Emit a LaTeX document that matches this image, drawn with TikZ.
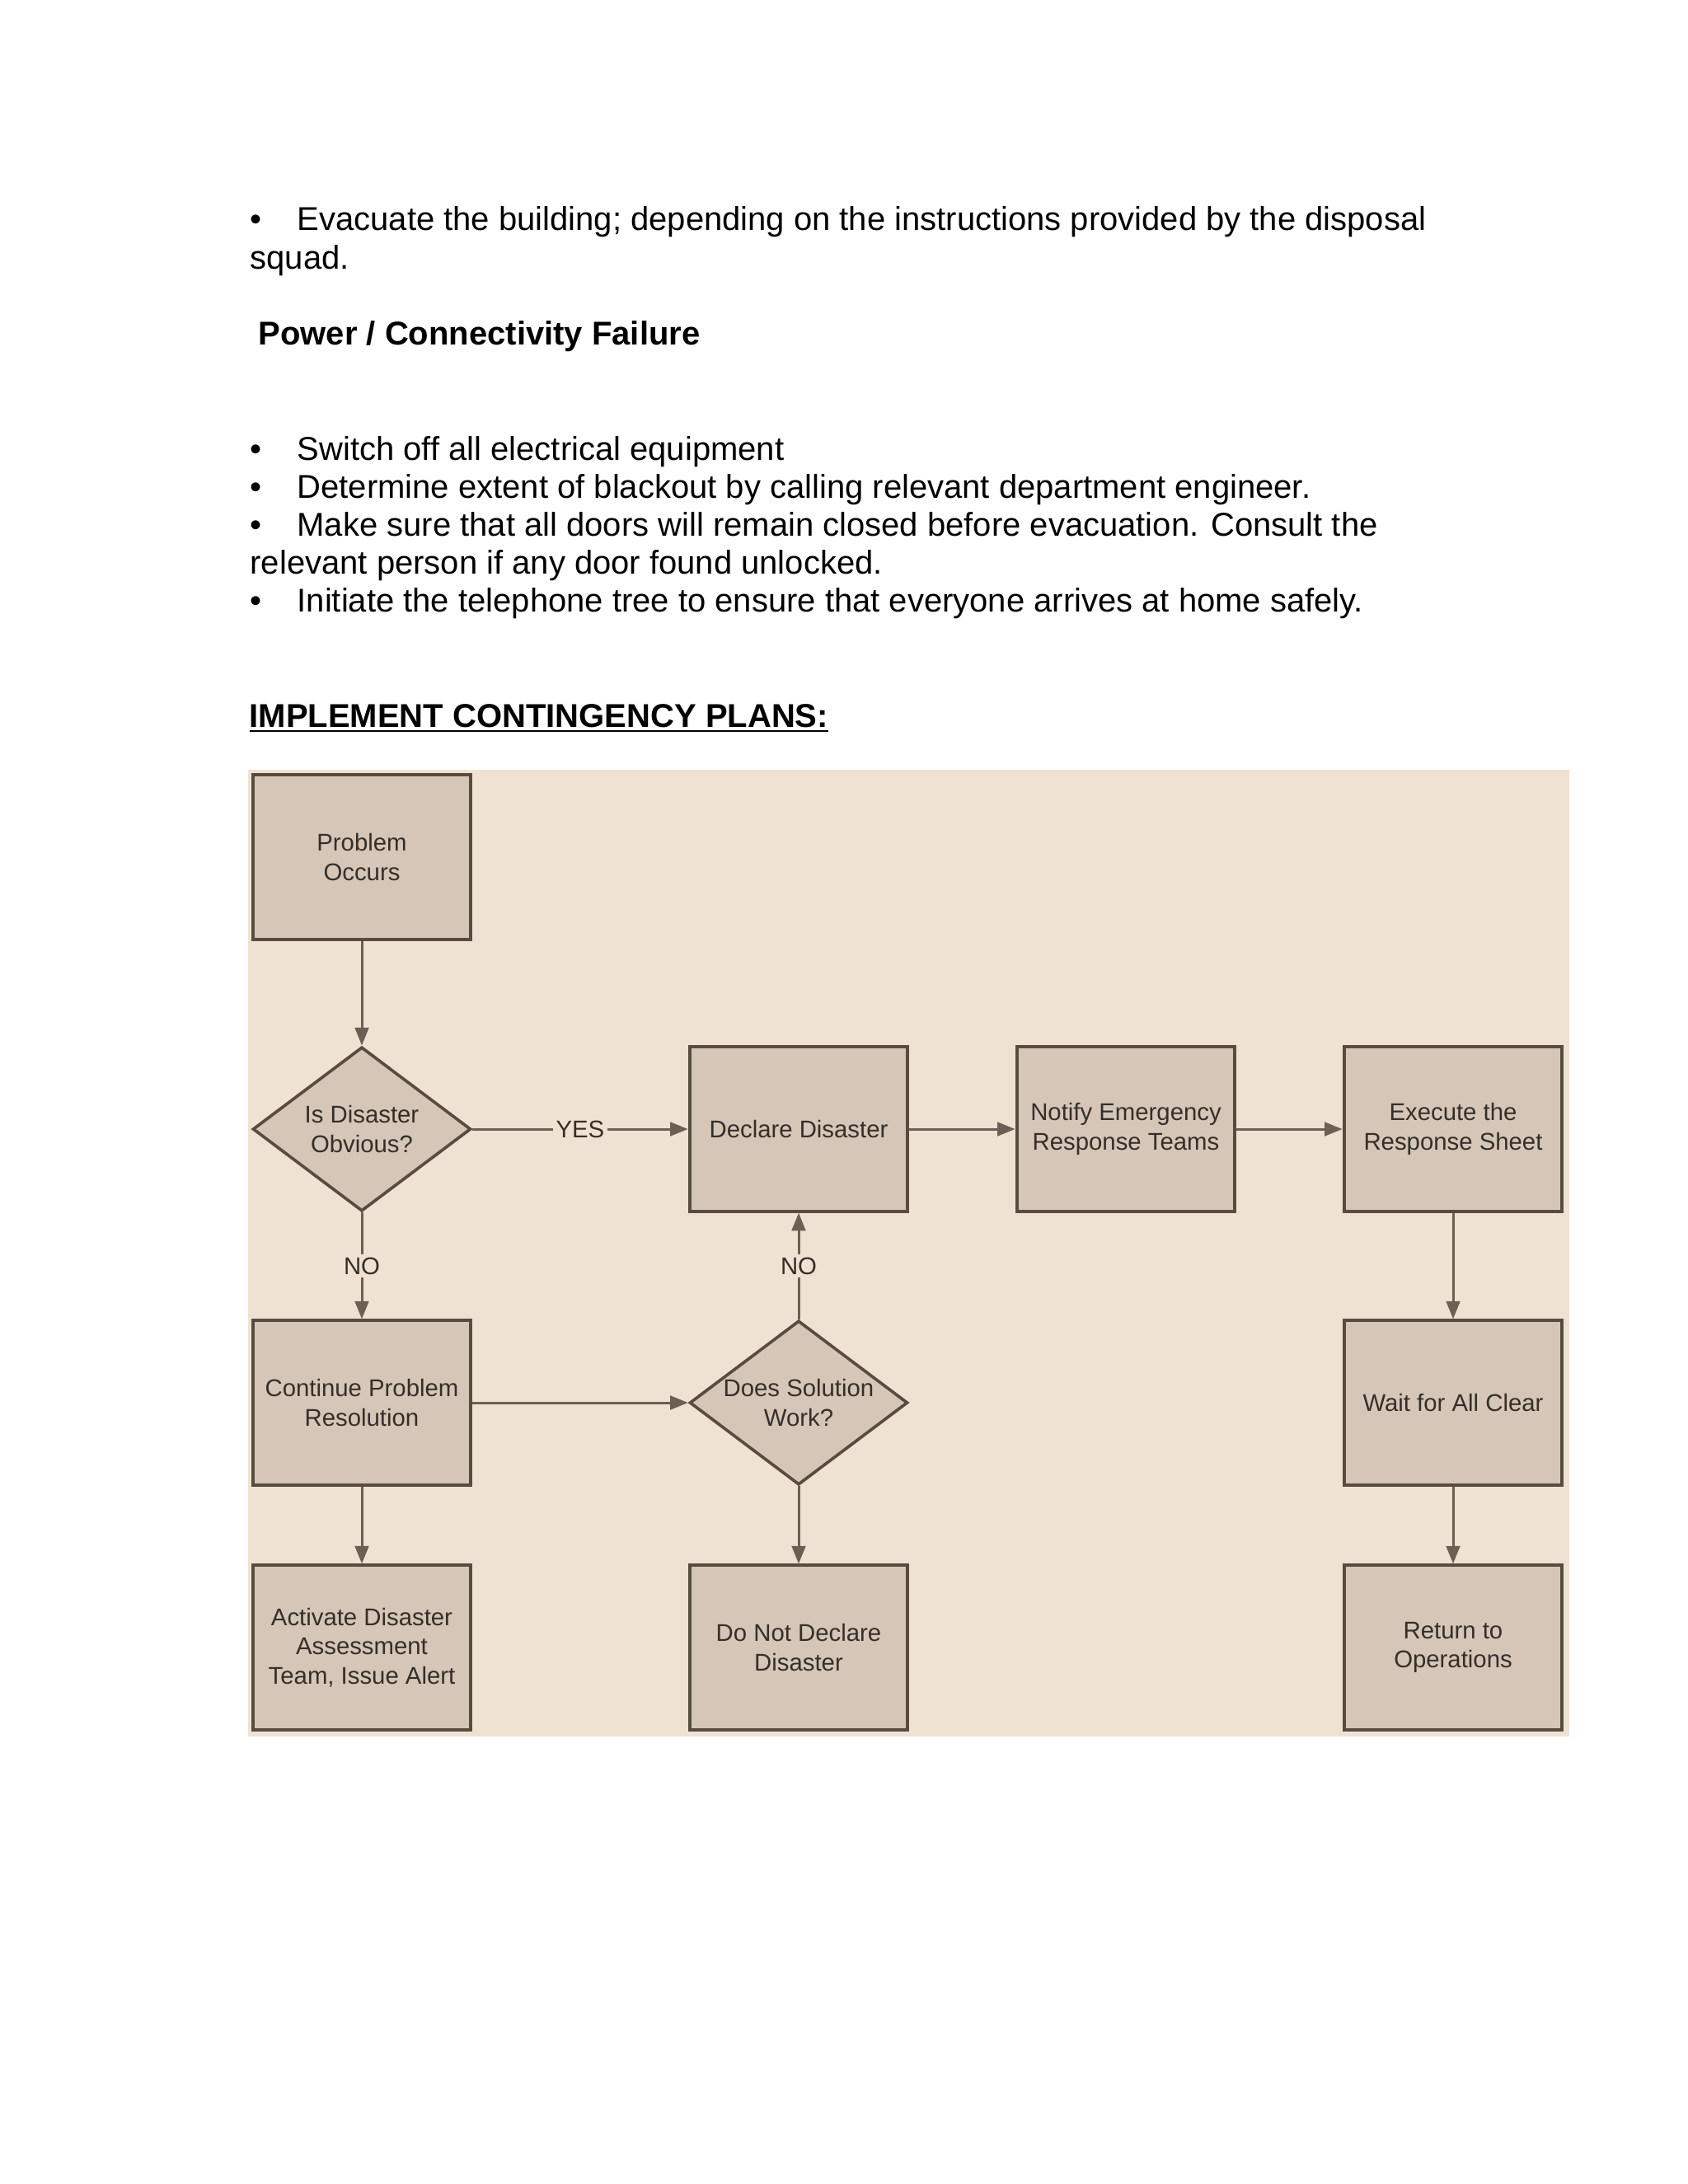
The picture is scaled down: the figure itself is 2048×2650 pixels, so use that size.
\documentclass[tikz,border=0pt]{standalone}
\usepackage{fontspec}
\setmainfont{Liberation Sans}
\usetikzlibrary{shapes,arrows.meta,positioning,calc}
\definecolor{chartbg}{RGB}{240,226,210}
\definecolor{boxfill}{RGB}{214,198,183}
\definecolor{boxline}{RGB}{88,76,64}
\definecolor{flowline}{RGB}{106,96,84}
\definecolor{chartink}{RGB}{52,47,42}

\begin{document}
\begin{tikzpicture}[x=0.010542cm,y=-0.010542cm,
    txt/.style={anchor=base west,inner sep=0pt,font=\fontsize{12}{14}\selectfont},
    dtext/.style={align=center,text=chartink,font=\fontsize{8.8}{10.6}\selectfont},
    stepbox/.style={dtext,draw=boxline,fill=boxfill,line width=1.2pt,minimum width=2.79cm,minimum height=2.10cm,inner sep=0pt},
    decision/.style={diamond,draw=boxline,fill=boxfill,line width=1.1pt,minimum width=2.79cm,minimum height=2.10cm,inner sep=0pt},
    flow/.style={draw=flowline,line width=0.9pt,-{Triangle[length=6.5pt,width=5pt]}},
    answer/.style={dtext,fill=chartbg,inner sep=1pt}]
\useasboundingbox[fill=white] (0,0) rectangle (2048,2650);

% page text
\node[txt] (b1) at (303,279) {•};
\node[txt] (t1) at (360,279) {Evacuate the building; depending on the instructions provided by the disposal};
\node[txt] (t1b) at (303,326) {squad.};
\node[txt,font=\fontsize{12}{14}\selectfont\bfseries] (power) at (313,418) {Power / Connectivity Failure};
\node[txt] (b2) at (303,558) {•};
\node[txt] (t2) at (360,558) {Switch off all electrical equipment};
\node[txt] (b3) at (303,604) {•};
\node[txt] (t3) at (360,604) {Determine extent of blackout by calling relevant department engineer.};
\node[txt] (b4) at (303,650) {•};
\node[txt] (t4) at (360,650) {Make sure that all doors will remain closed before evacuation. Consult the};
\node[txt] (t4b) at (303,696) {relevant person if any door found unlocked.};
\node[txt] (b5) at (303,742) {•};
\node[txt] (t5) at (360,742) {Initiate the telephone tree to ensure that everyone arrives at home safely.};
\node[txt,font=\fontsize{12}{14}\selectfont\bfseries] (plans) at (302,882) {\underline{IMPLEMENT CONTINGENCY PLANS:}};

% chart background
\fill[chartbg] (301,934) rectangle (1904,2107);

% steps
\node[stepbox] (occur) at (439,1040) {Problem\\Occurs};
\node[decision,label={[dtext]center:Is Disaster\\Obvious?}] (obvious) at (439,1370) {};
\node[stepbox] (declare) at (969,1370) {Declare Disaster};
\node[stepbox] (notify) at (1366,1370) {Notify Emergency\\Response Teams};
\node[stepbox] (execute) at (1763,1370) {Execute the\\Response Sheet};
\node[stepbox] (resolve) at (439,1702) {Continue Problem\\Resolution};
\node[decision,label={[dtext]center:Does Solution\\Work?}] (works) at (969,1702) {};
\node[stepbox] (waitclear) at (1763,1702) {Wait for All Clear};
\node[stepbox] (activate) at (439,1999) {Activate Disaster\\Assessment\\Team, Issue Alert};
\node[stepbox] (nodeclare) at (969,1999) {Do Not Declare\\Disaster};
\node[stepbox] (resume) at (1763,1999) {Return to\\Operations};

% connectors
\draw[flow] (occur) -- (obvious);
\draw[flow] (obvious) -- node[answer] (yes) {YES} (declare);
\draw[flow] (declare) -- (notify);
\draw[flow] (notify) -- (execute);
\draw[flow] (obvious) -- node[answer] (no1) {NO} (resolve);
\draw[flow] (resolve) -- (works);
\draw[flow] (works) -- node[answer] (no2) {NO} (declare);
\draw[flow] (works) -- (nodeclare);
\draw[flow] (resolve) -- (activate);
\draw[flow] (execute) -- (waitclear);
\draw[flow] (waitclear) -- (resume);
\end{tikzpicture}
\end{document}
